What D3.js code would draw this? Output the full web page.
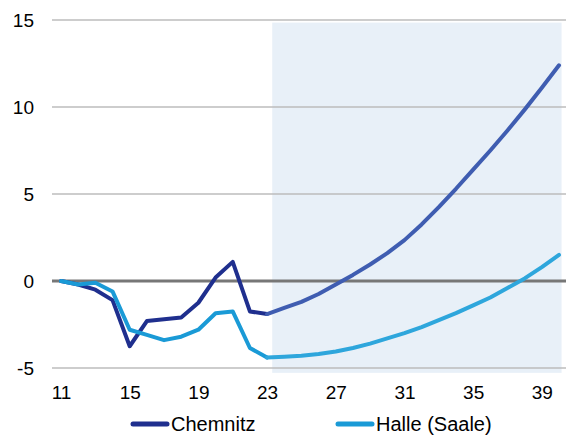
<!DOCTYPE html>
<html>
<head>
<meta charset="utf-8">
<script src="https://cdn.jsdelivr.net/npm/d3@7"></script>
<style>
  body { margin: 0; background: #fff; }
  svg { display: block; font-family: "Liberation Sans", Arial, sans-serif; }
</style>
</head>
<body>
<svg id="chart" width="566" height="435"></svg>
<script>
// Observed years (two-digit) and the projection years
const histYears = [11, 12, 13, 14, 15, 16, 17, 18, 19, 20, 21, 22, 23];
const projYears = [23, 24, 25, 26, 27, 28, 29, 30, 31, 32, 33, 34, 35, 36, 37, 38, 39, 40];

// Chemnitz
const chemnitzHist = [0, -0.2, -0.5, -1.1, -3.75, -2.3, -2.2, -2.1, -1.25, 0.2, 1.1, -1.75, -1.9];
const chemnitzProj = [-1.9, -1.55, -1.2, -0.75, -0.2, 0.35, 0.95, 1.6, 2.35, 3.25, 4.25, 5.3, 6.4, 7.5, 8.65, 9.85, 11.1, 12.4];

// Halle (Saale)
const halleHist = [0, -0.2, -0.1, -0.6, -2.8, -3.1, -3.4, -3.2, -2.8, -1.85, -1.75, -3.85, -4.4];
const halleProj = [-4.4, -4.35, -4.3, -4.2, -4.05, -3.85, -3.6, -3.3, -3.0, -2.65, -2.25, -1.85, -1.4, -0.95, -0.4, 0.15, 0.8, 1.5];

// Axis ticks
const xTicks = [11, 15, 19, 23, 27, 31, 35, 39];
const yTicks = [-5, 0, 5, 10, 15];
const yTickLabels = ["-5", "0", "5", "10", "15"];

// Projection band (x from / to, y from / to in data units)
const bandX = [23.3, 40.15];
const bandY = [-5.28, 14.85];

const legendNames = ["Chemnitz", "Halle (Saale)"];

const svg = d3.select("#chart");

const x = d3.scaleLinear().domain([11, 40]).range([61, 559]);
const y = d3.scaleLinear().domain([-5, 15]).range([368, 20]);

// shaded projection period
svg.append("rect")
  .attr("x", x(bandX[0]))
  .attr("y", y(bandY[1]))
  .attr("width", x(bandX[1]) - x(bandX[0]))
  .attr("height", y(bandY[0]) - y(bandY[1]))
  .attr("fill", "#e8f0f8");

// horizontal grid lines
const gridLeft = 52, gridRight = 566;
svg.append("g").selectAll("line")
  .data(yTicks.filter(d => d !== 0))
  .join("line")
  .attr("x1", gridLeft).attr("x2", gridRight)
  .attr("y1", d => y(d)).attr("y2", d => y(d))
  .attr("stroke", "#bdbdbd")
  .attr("stroke-width", 1.5);

// zero line
svg.append("line")
  .attr("x1", gridLeft).attr("x2", gridRight)
  .attr("y1", y(0)).attr("y2", y(0))
  .attr("stroke", "#777777")
  .attr("stroke-width", 3);

// y axis labels
const yAxis = d3.axisLeft(y)
  .tickValues(yTicks)
  .tickSize(0)
  .tickPadding(0)
  .tickFormat((d, i) => yTickLabels[i]);
const gy = svg.append("g").attr("transform", "translate(34,0)").call(yAxis);
gy.select(".domain").remove();
gy.selectAll("text")
  .attr("font-size", 19)
  .attr("font-family", "Liberation Sans, Arial, sans-serif")
  .attr("fill", "#000");

// x axis labels
const xAxis = d3.axisBottom(x)
  .tickValues(xTicks)
  .tickSize(0)
  .tickPadding(0)
  .tickFormat(d => String(d));
const gx = svg.append("g").attr("transform", "translate(0,385)").call(xAxis);
gx.select(".domain").remove();
gx.selectAll("text")
  .attr("font-size", 19)
  .attr("font-family", "Liberation Sans, Arial, sans-serif")
  .attr("fill", "#000");

const line = d3.line().x(d => x(d[0])).y(d => y(d[1]));

function drawSeries(years, values, color) {
  svg.append("path")
    .datum(years.map((yr, i) => [yr, values[i]]))
    .attr("d", line)
    .attr("fill", "none")
    .attr("stroke", color)
    .attr("stroke-width", 4)
    .attr("stroke-linejoin", "round")
    .attr("stroke-linecap", "round");
}

drawSeries(histYears, chemnitzHist, "#1f2f8e");
drawSeries(projYears, chemnitzProj, "#3f5db1");
drawSeries(histYears, halleHist, "#1a9ad6");
drawSeries(projYears, halleProj, "#2ea6dc");

// legend
const legendColors = ["#1f2f8e", "#1a9ad6"];
const legendX = [133, 338];
const legendY = 424;
const lg = svg.append("g");
legendNames.forEach((name, i) => {
  lg.append("line")
    .attr("x1", legendX[i]).attr("x2", legendX[i] + 34)
    .attr("y1", legendY).attr("y2", legendY)
    .attr("stroke", legendColors[i])
    .attr("stroke-width", 5)
    .attr("stroke-linecap", "round");
  lg.append("text")
    .attr("x", legendX[i] + 38)
    .attr("y", legendY)
    .attr("dy", "0.35em")
    .attr("font-size", 20)
    .attr("fill", "#000")
    .text(name);
});
</script>
</body>
</html>
